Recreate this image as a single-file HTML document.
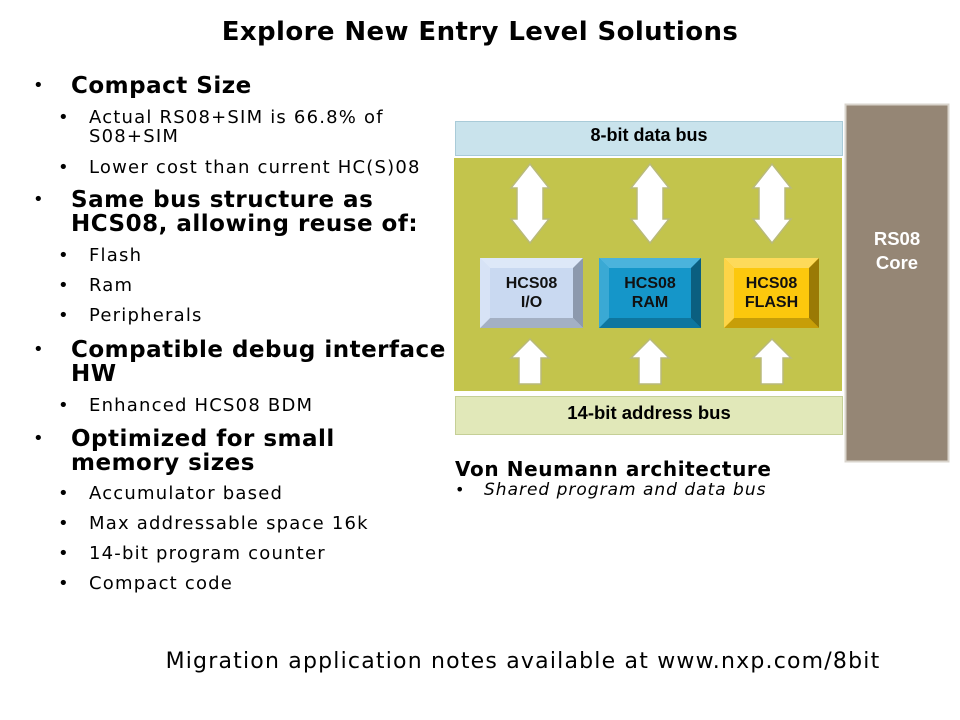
<!DOCTYPE html>
<html><head><meta charset="utf-8"><style>
body{margin:0;width:960px;height:720px;background:#fff;position:relative;overflow:hidden;font-family:"DejaVu Sans","Liberation Sans",sans-serif;color:#000}
.t{position:absolute;white-space:nowrap;line-height:20px}
.h{font-weight:bold;font-size:23px;line-height:24px;letter-spacing:0.5px}
.s{font-size:18px;letter-spacing:1.2px}
.b{position:absolute;font-size:18px}
.a{font-family:"Liberation Sans",sans-serif;font-weight:bold;position:absolute;text-align:center}
</style></head><body>
<div class="t" style="left:0;width:960px;text-align:center;top:17px;font-weight:bold;font-size:26px;line-height:30px;letter-spacing:0.4px">Explore New Entry Level Solutions</div>

<div class="t b" style="left:33px;top:76px">•</div><div class="t h" style="left:71px;top:74px">Compact Size</div>
<div class="t b" style="left:58px;top:108px">•</div><div class="t s" style="left:89px;top:108px;line-height:19px">Actual RS08+SIM is 66.8% of<br>S08+SIM</div>
<div class="t b" style="left:58px;top:158px">•</div><div class="t s" style="left:89px;top:158px">Lower cost than current HC(S)08</div>
<div class="t b" style="left:33px;top:190px">•</div><div class="t h" style="left:71px;top:188px">Same bus structure as<br>HCS08, allowing reuse of:</div>
<div class="t b" style="left:58px;top:246px">•</div><div class="t s" style="left:89px;top:246px">Flash</div>
<div class="t b" style="left:58px;top:276px">•</div><div class="t s" style="left:89px;top:276px">Ram</div>
<div class="t b" style="left:58px;top:306px">•</div><div class="t s" style="left:89px;top:306px">Peripherals</div>
<div class="t b" style="left:33px;top:340px">•</div><div class="t h" style="left:71px;top:338px">Compatible debug interface<br>HW</div>
<div class="t b" style="left:58px;top:396px">•</div><div class="t s" style="left:89px;top:396px">Enhanced HCS08 BDM</div>
<div class="t b" style="left:33px;top:429px">•</div><div class="t h" style="left:71px;top:427px">Optimized for small<br>memory sizes</div>
<div class="t b" style="left:58px;top:484px">•</div><div class="t s" style="left:89px;top:484px">Accumulator based</div>
<div class="t b" style="left:58px;top:514px">•</div><div class="t s" style="left:89px;top:514px">Max addressable space 16k</div>
<div class="t b" style="left:58px;top:544px">•</div><div class="t s" style="left:89px;top:544px">14-bit program counter</div>
<div class="t b" style="left:58px;top:574px">•</div><div class="t s" style="left:89px;top:574px">Compact code</div>

<svg style="position:absolute;left:0;top:0" width="960" height="720">
<rect x="845.5" y="104.5" width="103" height="357" fill="#958675" stroke="#d9d4cc" stroke-width="2"/>
<rect x="455.5" y="121.5" width="387" height="34" fill="#c9e3ec" stroke="#a9cbd8"/>
<rect x="454" y="158" width="388" height="233" fill="#c3c44c"/>
<rect x="455.5" y="396.5" width="387" height="38" fill="#e1e8b9" stroke="#c5cf96"/>
<g fill="#fff" stroke="#b9ba7a" stroke-width="1.5">
<polygon points="530,164 549,188 543,188 543,219 549,219 530,243 511,219 517,219 517,188 511,188"/>
<polygon points="650,164 669,188 663,188 663,219 669,219 650,243 631,219 637,219 637,188 631,188"/>
<polygon points="772,164 791,188 785,188 785,219 791,219 772,243 753,219 759,219 759,188 753,188"/>
<polygon points="530,339 549,358 541,358 541,384 519,384 519,358 511,358"/>
<polygon points="650,339 669,358 661,358 661,384 639,384 639,358 631,358"/>
<polygon points="772,339 791,358 783,358 783,384 761,384 761,358 753,358"/>
</g>
<rect x="480" y="258" width="103" height="70" fill="#c9d9f1"/>
<polygon points="480,258 583,258 573,268 490,268" fill="#dde8f8"/>
<polygon points="583,258 583,328 573,318 573,268" fill="#8c99ad"/>
<polygon points="480,328 583,328 573,318 490,318" fill="#a3b0c4"/>
<polygon points="480,258 490,268 490,318 480,328" fill="#d7e3f6"/>
<rect x="599" y="258" width="102" height="70" fill="#1596c9"/>
<polygon points="599,258 701,258 691,268 609,268" fill="#4bb3dc"/>
<polygon points="701,258 701,328 691,318 691,268" fill="#0b5f80"/>
<polygon points="599,328 701,328 691,318 609,318" fill="#0e769f"/>
<polygon points="599,258 609,268 609,318 599,328" fill="#3aa9d4"/>
<rect x="724" y="258" width="95" height="70" fill="#fcc80d"/>
<polygon points="724,258 819,258 809,268 734,268" fill="#fdda5a"/>
<polygon points="819,258 819,328 809,318 809,268" fill="#9a7a05"/>
<polygon points="724,328 819,328 809,318 734,318" fill="#c79e08"/>
<polygon points="724,258 734,268 734,318 724,328" fill="#fdd447"/>
</svg>
<div class="a" style="left:455px;width:388px;top:124px;font-size:18px;line-height:22px">8-bit data bus</div>
<div class="a" style="left:455px;width:388px;top:402px;font-size:18.5px;line-height:22px">14-bit address bus</div>
<div class="a" style="left:845px;width:104px;top:227px;font-size:18.5px;line-height:24px;color:#fff">RS08<br>Core</div>
<div class="a" style="left:480px;width:103px;top:274px;font-size:16px;line-height:19px;color:#111">HCS08<br>I/O</div>
<div class="a" style="left:599px;width:102px;top:274px;font-size:16px;line-height:19px;color:#111">HCS08<br>RAM</div>
<div class="a" style="left:724px;width:95px;top:274px;font-size:16px;line-height:19px;color:#111">HCS08<br>FLASH</div>

<div class="t" style="left:455px;top:458px;font-weight:bold;font-size:20px;line-height:22px;letter-spacing:0.6px">Von Neumann architecture</div>
<div class="t" style="left:455px;top:480px;font-size:16px;line-height:20px">•</div>
<div class="t" style="left:484px;top:480px;font-size:17px;line-height:20px;font-style:italic;letter-spacing:1px">Shared program and data bus</div>

<div class="t" style="left:0;width:1046px;text-align:center;top:650px;font-size:22px;line-height:24px;letter-spacing:1.2px">Migration application notes available at www.nxp.com/8bit</div>
</body></html>
